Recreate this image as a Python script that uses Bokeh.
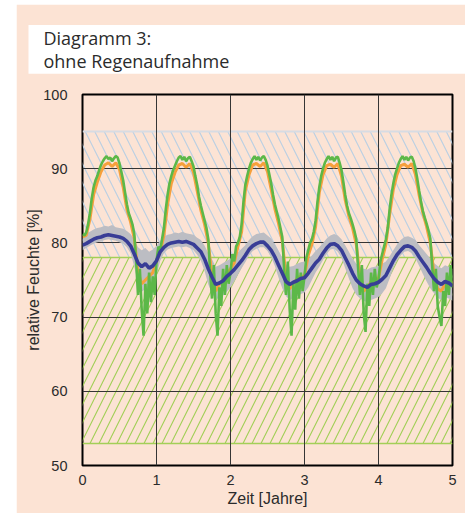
from bokeh.plotting import figure
from bokeh.layouts import row, column
from bokeh.models import FixedTicker, Spacer, Range1d, Title
from bokeh.embed import file_html
from bokeh.resources import INLINE

# ---------------- data ----------------
title_lines = ["Diagramm 3:", "ohne Regenaufnahme"]
x_label = "Zeit [Jahre]"
y_label = "relative Feuchte [%]"
x_ticks = [0, 1, 2, 3, 4, 5]
y_ticks = [50, 60, 70, 80, 90, 100]

# comfort bands (relative humidity, %)
upper_band = [78, 95]
lower_band = [53, 78]

# time axis, coarse (0.05 a) and fine (0.025 a)
t_coarse = [i / 20 for i in range(101)]
t_fine = [i / 40 for i in range(201)]

blue = [
    79.7, 79.9, 80.2, 80.5, 80.7, 80.8, 81.0, 81.1, 81.0, 80.9,
    80.8, 80.6, 80.2, 79.6, 78.5, 77.3, 76.8, 77.2, 76.6, 76.9,
    77.6, 78.8, 79.4, 79.8, 80.0, 80.1, 80.2, 80.1, 80.2, 80.0,
    79.8, 79.3, 78.8, 77.8, 76.5, 75.4, 74.4, 74.6, 74.9, 75.5,
    75.9, 76.4, 77.0, 77.6, 78.3, 79.1, 79.6, 79.9, 80.1, 80.1,
    79.6, 79.0, 78.1, 77.0, 75.9, 74.8, 74.4, 74.7, 74.9, 75.2,
    75.3, 75.9, 76.6, 77.3, 77.8, 78.6, 79.3, 79.8, 79.9, 79.6,
    79.0, 78.0, 77.0, 75.9, 75.0, 74.5, 74.2, 74.0, 74.4, 74.5,
    74.7, 75.1, 75.6, 76.6, 77.6, 78.4, 79.0, 79.5, 79.6, 79.4,
    78.9, 78.1, 77.4, 76.7, 75.9, 75.2, 74.7, 74.4, 74.8, 74.6,
    74.2,
]

gray_hi = [
    80.8, 81.2, 81.5, 81.8, 82.0, 82.1, 82.3, 82.2, 82.4, 82.1,
    82.0, 81.9, 81.6, 81.2, 80.5, 79.4, 79.0, 79.3, 78.8, 79.1,
    79.6, 80.3, 80.8, 81.1, 81.2, 81.4, 81.3, 81.5, 81.3, 81.2,
    81.1, 80.7, 80.4, 79.6, 78.6, 77.8, 76.8, 77.0, 77.3, 77.6,
    77.9, 78.2, 78.7, 79.2, 79.7, 80.4, 80.9, 81.2, 81.3, 81.4,
    81.0, 80.6, 79.8, 78.9, 78.0, 77.1, 76.8, 76.9, 77.2, 77.4,
    77.5, 77.8, 78.3, 78.9, 79.4, 80.0, 80.6, 81.0, 81.2, 81.0,
    80.5, 79.7, 78.8, 77.9, 77.2, 76.8, 76.5, 76.4, 76.7, 76.8,
    76.9, 77.2, 77.5, 78.2, 79.0, 79.8, 80.4, 80.8, 80.9, 80.7,
    80.4, 79.7, 79.1, 78.5, 77.9, 77.3, 76.9, 76.6, 77.0, 76.8,
    76.5,
]

gray_lo = [
    79.0, 79.3, 79.6, 79.9, 80.1, 80.2, 80.4, 80.5, 80.4, 80.3,
    80.1, 79.9, 79.4, 78.6, 76.8, 74.5, 73.4, 73.8, 73.2, 74.0,
    75.6, 77.6, 78.6, 79.1, 79.3, 79.4, 79.5, 79.4, 79.5, 79.3,
    79.0, 78.4, 77.6, 76.2, 74.4, 73.2, 72.4, 72.6, 72.9, 73.4,
    74.0, 74.8, 75.7, 76.6, 77.4, 78.3, 78.9, 79.2, 79.4, 79.4,
    78.9, 78.1, 76.9, 75.3, 73.9, 72.8, 72.3, 72.6, 72.8, 73.1,
    73.3, 74.0, 75.0, 76.0, 76.8, 77.7, 78.5, 79.1, 79.2, 78.8,
    78.0, 76.6, 75.2, 73.9, 73.0, 72.5, 72.2, 72.0, 72.3, 72.5,
    72.7, 73.2, 73.9, 75.2, 76.6, 77.6, 78.3, 78.8, 78.9, 78.6,
    77.9, 76.9, 75.8, 74.8, 73.9, 73.2, 72.6, 72.3, 72.7, 72.5,
    72.2,
]

orange = [
    80.8, 81.0, 83.2, 86.5, 88.2, 89.6, 90.5, 90.8, 90.3, 90.8,
    89.9, 87.5, 84.5, 82.8, 80.6, 76.0, 74.5, 75.0, 75.5, 76.0,
    77.5, 78.8, 81.0, 85.2, 88.0, 89.5, 90.5, 90.7, 90.2, 90.7,
    89.5, 87.0, 84.4, 82.5, 80.0, 75.5, 73.5, 74.5, 75.0, 75.8,
    76.5, 77.3, 79.5, 81.5, 87.0, 89.2, 90.5, 90.7, 90.3, 90.8,
    89.6, 87.2, 84.6, 82.6, 80.2, 75.5, 73.8, 74.5, 75.2, 75.5,
    75.5, 78.3, 79.8, 82.2, 86.8, 89.2, 90.4, 90.6, 90.2, 90.7,
    89.0, 85.8, 83.6, 82.0, 79.8, 75.5, 73.5, 74.0, 74.8, 75.2,
    75.2, 77.8, 79.8, 83.8, 87.2, 89.2, 90.4, 90.6, 90.2, 90.7,
    89.2, 86.4, 84.0, 82.2, 80.0, 75.8, 73.8, 73.5, 74.5, 75.2,
    74.5,
]

green = [
    # year 0
    81.2, 81.0, 81.4, 82.5, 84.0, 86.0, 87.5, 88.4, 89.0, 89.8,
    90.5, 91.0, 91.4, 91.7, 91.3, 91.5, 91.0, 91.4, 91.7, 91.5,
    90.7, 89.6, 88.4, 86.8, 85.2, 84.0, 83.3, 82.5, 81.2, 77.5,
    73.0, 76.5, 71.0, 67.5, 74.5, 70.5, 76.0, 72.0, 75.5, 73.0,
    # year 1
    77.5, 79.5, 79.0, 80.5, 82.0, 84.5, 86.5, 88.0, 89.0, 89.8,
    90.4, 91.0, 91.5, 91.7, 91.2, 91.6, 91.0, 91.4, 91.6, 91.0,
    90.3, 89.0, 87.8, 86.2, 85.0, 84.0, 83.0, 82.0, 80.5, 76.0,
    72.5, 77.0, 70.5, 67.5, 74.0, 71.5, 76.5, 73.0, 77.0, 74.5,
    # year 2
    76.0, 78.5, 77.5, 79.5, 80.0, 80.8, 82.5, 85.5, 87.8, 89.0,
    90.0, 90.8, 91.3, 91.7, 91.2, 91.6, 91.1, 91.5, 91.7, 91.2,
    90.4, 89.2, 88.0, 86.5, 85.2, 84.2, 83.2, 82.0, 80.8, 76.5,
    73.0, 77.5, 71.0, 67.5, 74.5, 71.0, 76.5, 72.5, 76.0, 73.5,
    # year 3
    75.5, 78.0, 79.0, 80.0, 80.5, 81.5, 83.0, 85.5, 87.5, 89.0,
    90.0, 90.8, 91.3, 91.7, 91.2, 91.6, 91.0, 91.5, 91.6, 90.8,
    89.8, 88.2, 86.5, 85.0, 84.0, 83.3, 82.5, 81.6, 80.5, 76.5,
    73.0, 77.0, 70.5, 68.0, 74.5, 71.5, 76.0, 73.0, 76.5, 74.0,
    # year 4
    75.0, 77.5, 78.5, 79.5, 80.5, 82.0, 84.5, 86.5, 88.0, 89.2,
    90.0, 90.8, 91.3, 91.7, 91.2, 91.6, 91.1, 91.5, 91.6, 91.0,
    90.0, 88.6, 87.0, 85.5, 84.3, 83.4, 82.6, 81.7, 80.6, 77.0,
    73.5, 76.5, 71.5, 70.0, 68.8, 73.5, 71.5, 76.0, 73.0, 77.0,
    74.0,
]

# ---------------- styling ----------------
PEACH = "#fce3d4"
GREEN = "#5cb848"
ORANGE = "#f6a03c"
GRAY = "#bcbdc3"
BLUE = "#383d96"
GREEN_HATCH = "#a3cf58"
BLUE_HATCH = "#bcd0e2"
TOP_LINE = "#d7dce3"
GRID = "#353535"
TEXT = "#2b2b2b"

p = figure(width=449, height=509, x_range=Range1d(0, 5), y_range=Range1d(50, 100),
           output_backend="svg", toolbar_location=None,
           min_border_left=66, min_border_right=13,
           min_border_top=90, min_border_bottom=48,
           background_fill_color=PEACH, border_fill_color=PEACH,
           outline_line_color="black", outline_line_width=2)

# title box: multi-line title with a white background
p.add_layout(Title(text="\n".join(title_lines), align="left", offset=-54,
                   vertical_align="top",
                   text_font="Open Sans", text_font_size="18px",
                   text_font_style="normal", text_color=TEXT,
                   text_line_height=0.95, standoff=37,
                   background_fill_color="white",
                   padding=dict(left=15, right=236, top=1, bottom=1)), "above")

# bands (drawn below the grid)
p.quad(left=[x_ticks[0]], right=[x_ticks[-1]], bottom=[upper_band[0]], top=[upper_band[1]],
       fill_alpha=0, line_color=None, hatch_pattern="\\", hatch_color=BLUE_HATCH,
       hatch_scale=19, hatch_weight=1.2, level="image")
p.quad(left=[x_ticks[0]], right=[x_ticks[-1]], bottom=[lower_band[0]], top=[lower_band[1]],
       fill_alpha=0, line_color=None, hatch_pattern="/", hatch_color=GREEN_HATCH,
       hatch_scale=18, hatch_weight=1.15, level="image")
p.hspan(y=[upper_band[1]], line_color=TOP_LINE, line_width=2, level="image")
p.hspan(y=lower_band, line_color=GREEN_HATCH, line_width=1.6, level="image")

# series
p.varea(x=t_coarse, y1=gray_lo, y2=gray_hi, fill_color=GRAY)
p.line(t_coarse, orange, line_color=ORANGE, line_width=3)
p.line(t_fine, green, line_color=GREEN, line_width=2.6)
p.line(t_coarse, blue, line_color=BLUE, line_width=3.6)

# axes
p.xaxis.ticker = FixedTicker(ticks=x_ticks)
p.yaxis.ticker = FixedTicker(ticks=y_ticks)
for ax in (p.xaxis[0], p.yaxis[0]):
    ax.axis_line_color = None
    ax.major_tick_line_color = None
    ax.minor_tick_line_color = None
    ax.major_label_text_font = "Liberation Sans"
    ax.major_label_text_font_size = "14.5px"
    ax.major_label_text_color = TEXT
    ax.axis_label_text_font = "Liberation Sans"
    ax.axis_label_text_font_size = "16px"
    ax.axis_label_text_font_style = "normal"
    ax.axis_label_text_color = TEXT
p.xaxis.axis_label = x_label
p.yaxis.axis_label = y_label
p.xaxis.major_label_standoff = 3
p.xaxis.axis_label_standoff = 2
p.yaxis.major_label_standoff = 9
p.yaxis.axis_label_standoff = -2

p.grid.grid_line_color = GRID
p.grid.grid_line_width = 1
p.grid.grid_line_dash = "solid"

layout = row(Spacer(width=16), column(Spacer(height=4), p))
open("out.html", "w").write(file_html(layout, INLINE))
